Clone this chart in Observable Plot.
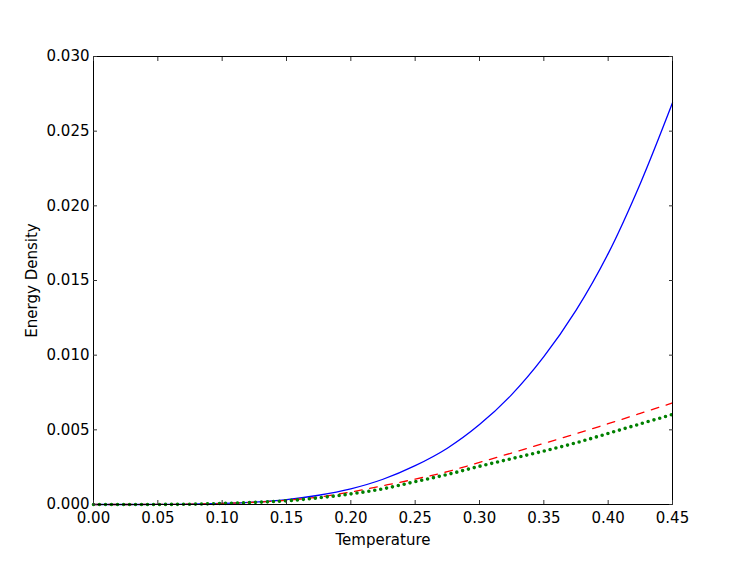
<!DOCTYPE html>
<html>
<head>
<meta charset="utf-8">
<script src="https://cdn.jsdelivr.net/npm/d3@7"></script>
<script src="https://cdn.jsdelivr.net/npm/@observablehq/plot@0.6"></script>
<style>
  html, body { margin: 0; padding: 0; background: #fff; }
</style>
</head>
<body>
<div id="chart"></div>
<script>
const temperature = [0.00, 0.025, 0.05, 0.075, 0.10, 0.125, 0.15, 0.175, 0.20, 0.225, 0.25, 0.275, 0.30, 0.325, 0.35, 0.375, 0.40, 0.425, 0.45];
const blueSeries  = [0, 0.0000003, 0.000004, 0.00002, 0.00007, 0.00016, 0.00033, 0.00062, 0.00105, 0.00169, 0.0026, 0.00377, 0.00535, 0.00736, 0.0099, 0.0130, 0.0168, 0.0215, 0.0269];
const redSeries   = [0, 0.0000003, 0.000004, 0.00002, 0.00007, 0.00015, 0.00028, 0.0005, 0.00084, 0.00126, 0.0017, 0.0022, 0.00282, 0.00345, 0.00409, 0.00474, 0.00541, 0.0061, 0.0068];
const greenSeries = [0, 0.0000003, 0.000004, 0.00002, 0.00007, 0.00014, 0.00025, 0.00045, 0.00071, 0.00105, 0.00153, 0.00201, 0.00256, 0.00307, 0.00358, 0.00413, 0.00476, 0.0054, 0.00603];
const xTicks = [0.00, 0.05, 0.10, 0.15, 0.20, 0.25, 0.30, 0.35, 0.40, 0.45];
const yTicks = [0.000, 0.005, 0.010, 0.015, 0.020, 0.025, 0.030];
const xLabel = "Temperature";
const yLabel = "Energy Density";

const toRows = (vals) => temperature.map((t, i) => ({t, v: vals[i]}));
const blank = () => "";

const chart = Plot.plot({
  width: 747,
  height: 561,
  marginLeft: 93,
  marginRight: 75,
  marginTop: 56,
  marginBottom: 57,
  x: {domain: [0, 0.45]},
  y: {domain: [0, 0.03]},
  style: {fontFamily: "DejaVu Sans", fontSize: "15px", background: "white", color: "black", overflow: "visible"},
  marks: [
    Plot.line(toRows(blueSeries), {x: "t", y: "v", stroke: "#0000ff", strokeWidth: 1.3, curve: "catmull-rom"}),
    Plot.line(toRows(redSeries), {x: "t", y: "v", stroke: "#ff0000", strokeWidth: 1.3, strokeDasharray: "7.7,7.7", curve: "catmull-rom"}),
    Plot.line(toRows(greenSeries), {x: "t", y: "v", stroke: "#008000", strokeWidth: 3.6, strokeDasharray: "0,6", strokeLinecap: "round", curve: "catmull-rom"}),
    Plot.frame({stroke: "black", strokeWidth: 1}),
    Plot.axisX(xTicks, {anchor: "bottom", tickSize: 0, tickPadding: 8, tickFormat: d3.format(".2f"), label: null}),
    Plot.axisX(xTicks, {anchor: "bottom", tickSize: 4, dy: -4, tickFormat: blank, label: null, stroke: "#333"}),
    Plot.axisX(xTicks, {anchor: "top", tickSize: 4, dy: 4, tickFormat: blank, label: null, stroke: "#333"}),
    Plot.axisY(yTicks, {anchor: "left", tickSize: 0, tickPadding: 4, tickFormat: d3.format(".3f"), label: null}),
    Plot.axisY(yTicks, {anchor: "left", tickSize: 4, dx: 4, tickFormat: blank, label: null, stroke: "#333"}),
    Plot.axisY(yTicks, {anchor: "right", tickSize: 4, dx: -4, tickFormat: blank, label: null, stroke: "#333"}),
    Plot.text([xLabel], {frameAnchor: "bottom", text: d => d, dy: 40, textAnchor: "middle", lineAnchor: "bottom", fill: "black"}),
    Plot.text([yLabel], {frameAnchor: "left", text: d => d, dx: -57, rotate: -90, textAnchor: "middle", lineAnchor: "bottom", fill: "black"})
  ]
});
document.getElementById("chart").appendChild(chart);
</script>
</body>
</html>
